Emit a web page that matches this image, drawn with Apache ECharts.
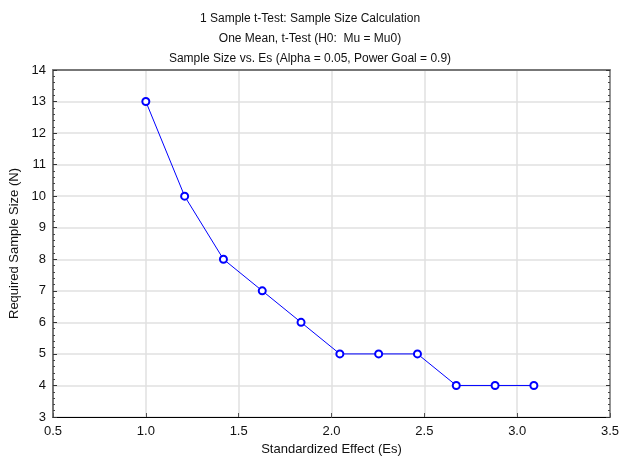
<!DOCTYPE html>
<html><head><meta charset="utf-8">
<script src="https://cdn.jsdelivr.net/npm/echarts@6/dist/echarts.min.js"></script>
<style>html,body{margin:0;padding:0;background:#fff}#c{width:620px;height:462px}</style>
</head><body><div id="c"></div>
<script>
var effectSizes = [1.0, 1.209, 1.418, 1.627, 1.836, 2.045, 2.254, 2.463, 2.672, 2.881, 3.09];
var sampleSizes = [13, 10, 8, 7, 6, 5, 5, 5, 4, 4, 4];
var titleLines = ['1 Sample t-Test: Sample Size Calculation', 'One Mean, t-Test (H0:  Mu = Mu0)', 'Sample Size vs. Es (Alpha = 0.05, Power Goal = 0.9)'];
var xName = 'Standardized Effect (Es)';
var yName = 'Required Sample Size (N)';

var font = 'Liberation Sans, Arial, sans-serif';
var chart = echarts.init(document.getElementById('c'), null, {renderer: 'canvas'});
var data = effectSizes.map(function (x, i) { return [x, sampleSizes[i]]; });
chart.setOption({
  animation: false,
  title: titleLines.map(function (t, i) {
    return {text: t, left: 'center', top: 8 + i * 20, textStyle: {fontFamily: font, fontSize: 12, fontWeight: 'normal', color: '#111'}};
  }),
  grid: {left: 53, right: 10, top: 70, bottom: 45, containLabel: false, outerBoundsMode: 'none'},
  xAxis: [{
    type: 'value', min: 0.5, max: 3.5, interval: 0.5, position: 'bottom',
    name: xName, nameLocation: 'middle', nameGap: 25,
    nameTextStyle: {fontFamily: font, fontSize: 13, color: '#111'},
    axisLine: {show: true, lineStyle: {color: '#000', width: 1}},
    axisTick: {show: true, inside: true, length: 4, lineStyle: {color: '#555'}},
    axisLabel: {fontFamily: font, fontSize: 13, color: '#111', margin: 8, formatter: function (v) { return v.toFixed(1); }},
    splitLine: {show: true, lineStyle: {color: '#e0e0e0', width: 1.5}}
  }, {
    type: 'value', min: 0.5, max: 3.5, interval: 0.5, position: 'top',
    axisLine: {show: true, lineStyle: {color: '#777', width: 2}},
    axisTick: {show: false}, axisLabel: {show: false}, splitLine: {show: false}
  }],
  yAxis: [{
    type: 'value', min: 3, max: 14, interval: 1, position: 'left',
    name: yName, nameLocation: 'middle', nameGap: 29,
    nameTextStyle: {fontFamily: font, fontSize: 13, color: '#111'},
    axisLine: {show: true, lineStyle: {color: '#777', width: 2}},
    axisTick: {show: true, inside: true, length: 4, lineStyle: {color: '#333'}},
    minorTick: {show: true, splitNumber: 5, length: 2, lineStyle: {color: '#444'}},
    axisLabel: {fontFamily: font, fontSize: 13, color: '#111', margin: 7},
    splitLine: {show: true, lineStyle: {color: '#e0e0e0', width: 1.5}}
  }, {
    type: 'value', min: 3, max: 14, interval: 1, position: 'right',
    axisLine: {show: true, lineStyle: {color: '#777', width: 1.5}},
    axisTick: {show: true, inside: true, length: 4, lineStyle: {color: '#333'}},
    minorTick: {show: true, splitNumber: 5, length: 2, lineStyle: {color: '#444'}},
    axisLabel: {show: false}, splitLine: {show: false}
  }],
  series: [{
    type: 'line', data: data, xAxisIndex: 0, yAxisIndex: 0,
    symbol: 'emptyCircle', symbolSize: 7,
    lineStyle: {color: '#0000ff', width: 1},
    itemStyle: {color: '#0000ff', borderColor: '#0000ff', borderWidth: 1.3}
  }]
});
</script></body></html>
